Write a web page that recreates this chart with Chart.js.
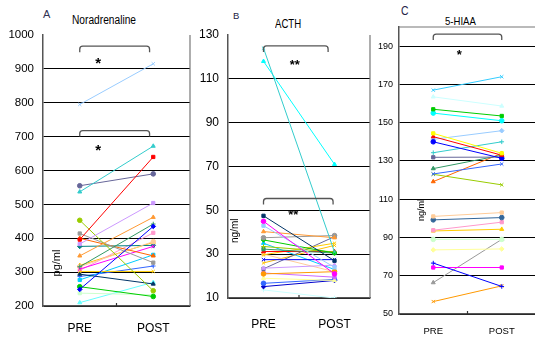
<!DOCTYPE html>
<html>
<head>
<meta charset="utf-8">
<script src="https://cdn.jsdelivr.net/npm/chart.js@4/dist/chart.umd.min.js"></script>
<style>
  body { margin: 0; background: #fff; width: 535px; height: 338px; position: relative; overflow: hidden; }
  canvas { position: absolute; top: 0; }
  .lbl { position: absolute; color: #000; white-space: nowrap; line-height: 1; transform-origin: 0 0;
         font-family: 'Liberation Sans', Arial, sans-serif; }
</style>
</head>
<body>
<div class="lbl" style="left:43px;top:9px;font-size:11px;color:#335">A</div>
<div class="lbl" style="left:72px;top:14px;font-size:12.5px;transform:scaleX(0.815)">Noradrenaline</div>
<div class="lbl" style="left:233px;top:11px;font-size:9.5px;color:#224">B</div>
<div class="lbl" style="left:275px;top:17px;font-size:13px;transform:scaleX(0.74)">ACTH</div>
<div class="lbl" style="left:401px;top:4px;font-size:13px;color:#224;transform:scaleX(0.8)">C</div>
<div class="lbl" style="left:445px;top:15.5px;font-size:11px;transform:scaleX(0.87)">5-HIAA</div>
<canvas id="chartA" width="195" height="338" style="left:0px"></canvas>
<canvas id="chartB" width="180" height="338" style="left:195px"></canvas>
<canvas id="chartC" width="166" height="338" style="left:375px"></canvas>
<script>
const FONT = "'Liberation Sans', Arial, sans-serif";
const categories = ['PRE', 'POST'];

// A: Noradrenaline (pg/ml)
const noradTicks = [200, 300, 400, 500, 600, 700, 800, 900, 1000];
const noradPre  = [795, 537, 396, 555, 383, 348, 453, 249, 316, 414, 400, 309, 302, 294, 277, 257, 238, 210, 316, 376, 287, 305, 320];
const noradPost = [915, 672, 640, 590, 504, 462, 245, 435, 442, 328, 348, 376, 302, 265, 351, 228, 233, 270, 390, 379, 318, 416, 388];
const noradColors = ['#99ccff', '#33cccc', '#ff0000', '#666699', '#cc99ff', '#ff9933', '#99cc00', '#0000ff', '#339966', '#999999', '#ff6600', '#ff00ff',
                     '#ffcc00', '#003366', '#00ccff', '#00cc00', '#ccffcc', '#66ffff', '#ffcc99', '#008080', '#3366ff', '#ff99cc', '#ffc000'];

// B: ACTH (ng/ml)
const acthTicks = [10, 30, 50, 70, 90, 110, 130];
const acthPre  = [124, 118, 47.5, 45, 43, 40.3, 37.5, 36.5, 33.5, 32.3, 31.2, 29.7, 27.5, 23.6, 23.3, 21, 21.4, 19, 16.7, 15.2, 13.7, 30, 35, 26];
const acthPost = [31, 71, 27, 21, 24, 37.5, 38.5, 30.5, 31, 30.5, 31.2, 35, 27.5, 25, 38, 22, 19.5, 18, 18.5, 18, 10, 22, 23, 34];
const acthColors = ['#33cccc', '#00ffff', '#003366', '#ff00ff', '#99ccff', '#ff9933', '#999999', '#00cc00', '#99cc00', '#339966', '#ff0000', '#ffcc00',
                    '#0000ff', '#cc99ff', '#666699', '#ff9900', '#cc66ff', '#ffff99', '#3366ff', '#0000cc', '#ccffff', '#ffcc99', '#00ccff', '#ffc000'];

// C: 5-HIAA (ng/ml)
const hiaaTicks = [50, 70, 90, 110, 130, 150, 170, 190];
const hiaaPre  = [167, 163.5, 157, 155, 144.4, 142.7, 140, 141.3, 134.3, 131.9, 126, 123.2, 123, 119.2, 101, 99.2, 93.8, 93.4, 89, 83.5, 76.6, 74.3, 66.4, 56.5];
const hiaaPost = [174, 158.7, 153.5, 151, 134, 133, 131.4, 145.8, 140, 132, 133, 128.4, 117.5, 134, 103, 100.4, 98, 94.3, 89, 84, 64.4, 74.3, 89, 64.7];
const hiaaColors = ['#33ccff', '#ccffff', '#00cc00', '#00ffff', '#ffff00', '#ff0000', '#0000ff', '#99ccff', '#33cccc', '#666699', '#339966', '#3366ff',
                    '#99cc00', '#ff6600', '#ffcc99', '#336699', '#ff99cc', '#ffcc00', '#ccffcc', '#ffff99', '#0000ff', '#ff00ff', '#999999', '#ff9900'];

const markerStyles = ['crossRot', 'triangle', 'rect', 'circle', 'rect', 'triangle', 'circle', 'rectRot', 'cross', 'rect', 'triangle', 'crossRot'];

const decor = {
  id: 'decor',
  beforeDatasetsDraw(chart, args, o) {
    const ctx = chart.ctx, y = chart.scales.y, a = chart.chartArea;
    ctx.save();
    ctx.translate(a.left + o.unitDx, y.getPixelForValue(o.unitY));
    ctx.rotate(-Math.PI / 2);
    ctx.font = o.unitSize + 'px ' + FONT;
    ctx.fillStyle = '#000';
    ctx.textAlign = 'center';
    ctx.textBaseline = 'middle';
    ctx.fillText(o.unit, 0, 0);
    ctx.restore();
  },
  afterDatasetsDraw(chart, args, o) {
    const ctx = chart.ctx, x = chart.scales.x, y = chart.scales.y, a = chart.chartArea;
    const x0 = x.getPixelForValue(0), x1 = x.getPixelForValue(1);
    ctx.save();
    ctx.strokeStyle = '#777';
    ctx.lineWidth = 1.2;
    ctx.beginPath();
    if (o.rightBorder) { ctx.moveTo(a.right, a.top); ctx.lineTo(a.right, a.bottom); }
    if (o.topBorder) { ctx.moveTo(a.left, a.top); ctx.lineTo(a.right, a.top); }
    ctx.stroke();
    // small inner tick between the two categories
    ctx.strokeStyle = '#333';
    ctx.beginPath();
    ctx.moveTo((x0 + x1) / 2, a.bottom);
    ctx.lineTo((x0 + x1) / 2, a.bottom - 3);
    ctx.stroke();
    // brackets and significance marks
    o.brackets.forEach(b => {
      const by = y.getPixelForValue(b.y);
      const l = x0, r = x0 + (x1 - x0) * b.end, rad = 3;
      ctx.strokeStyle = '#555';
      ctx.lineWidth = 1.3;
      ctx.beginPath();
      ctx.moveTo(l, by + 6);
      ctx.arcTo(l, by, l + rad, by, rad);
      ctx.lineTo(r - rad, by);
      ctx.arcTo(r, by, r, by + 6, rad);
      ctx.lineTo(r, by + 6);
      ctx.stroke();
      ctx.fillStyle = '#000';
      ctx.font = 'bold ' + b.size + 'px ' + FONT;
      ctx.textAlign = 'center';
      ctx.textBaseline = 'middle';
      ctx.fillText(b.text, x0 + (x1 - x0) * b.tx, y.getPixelForValue(b.ty) + b.size * 0.25);
    });
    ctx.restore();
  }
};

function createPanel(id, pre, post, colors, ticks, p) {
  const datasets = pre.map((v, i) => ({
    data: [v, post[i]],
    borderColor: colors[i],
    backgroundColor: colors[i],
    borderWidth: 1,
    pointStyle: markerStyles[i % markerStyles.length],
    pointRadius: 2.3,
    pointBorderWidth: 1,
    fill: false
  }));
  const yMax = p.max;
  return new Chart(document.getElementById(id), {
    type: 'line',
    data: { labels: categories, datasets: datasets },
    options: {
      responsive: false,
      animation: false,
      layout: { padding: { top: p.top, right: p.right, left: 0, bottom: 0 } },
      plugins: {
        legend: { display: false },
        tooltip: { enabled: false },
        decor: p.decor
      },
      scales: {
        x: {
          offset: true,
          grid: { display: false, drawTicks: false },
          border: { color: '#555', width: 1.5 },
          ticks: { color: '#000', padding: p.xPad, font: { family: FONT, size: p.xFont } },
          afterFit: s => { s.height = p.xHeight; }
        },
        y: {
          min: ticks[0],
          max: yMax,
          afterBuildTicks: s => { s.ticks = ticks.map(v => ({ value: v })); },
          grid: {
            drawTicks: false,
            lineWidth: 1,
            color: c => (c.tick && c.tick.value === yMax) ? 'rgba(0,0,0,0)' : '#000'
          },
          border: { color: '#555', width: 1.5 },
          ticks: { color: '#000', padding: p.yPad, font: { family: FONT, size: p.yFont }, callback: v => String(v) },
          afterFit: s => { s.width = p.yWidth; }
        }
      }
    },
    plugins: [decor]
  });
}

createPanel('chartA', noradPre, noradPost, noradColors, noradTicks, {
  max: 1000, top: 35, right: 5, xHeight: 32, yWidth: 43, xPad: 15, xFont: 12, yFont: 11.5, yPad: 9,
  decor: {
    unit: 'pg/ml', unitDx: 14, unitY: 327, unitSize: 11, rightBorder: true, topBorder: false,
    brackets: [
      { y: 967, end: 0.95, text: '*', tx: 0.25, ty: 925, size: 15 },
      { y: 718, end: 0.95, text: '*', tx: 0.25, ty: 668, size: 15 }
    ]
  }
});

createPanel('chartB', acthPre, acthPost, acthColors, acthTicks, {
  max: 130, top: 35, right: 4, xHeight: 40, yWidth: 33, xPad: 19, xFont: 12, yFont: 12, yPad: 9,
  decor: {
    unit: 'ng/ml', unitDx: 7, unitY: 40.7, unitSize: 10, rightBorder: true, topBorder: false,
    brackets: [
      { y: 125, end: 0.91, text: '**', tx: 0.44, ty: 117.6, size: 13 },
      { y: 55.4, end: 0.98, text: '**', tx: 0.42, ty: 49, size: 13 }
    ]
  }
});

createPanel('chartC', hiaaPre, hiaaPost, hiaaColors, hiaaTicks, {
  max: 200, top: 27, right: 0, xHeight: 24, yWidth: 24, xPad: 12, xFont: 9.5, yFont: 9, yPad: 6,
  decor: {
    unit: 'ng/ml', unitDx: 23, unitY: 104.4, unitSize: 9, rightBorder: false, topBorder: true,
    brackets: [
      { y: 196.3, end: 1.0, text: '*', tx: 0.38, ty: 186.9, size: 13 }
    ]
  }
});
</script>
</body>
</html>
